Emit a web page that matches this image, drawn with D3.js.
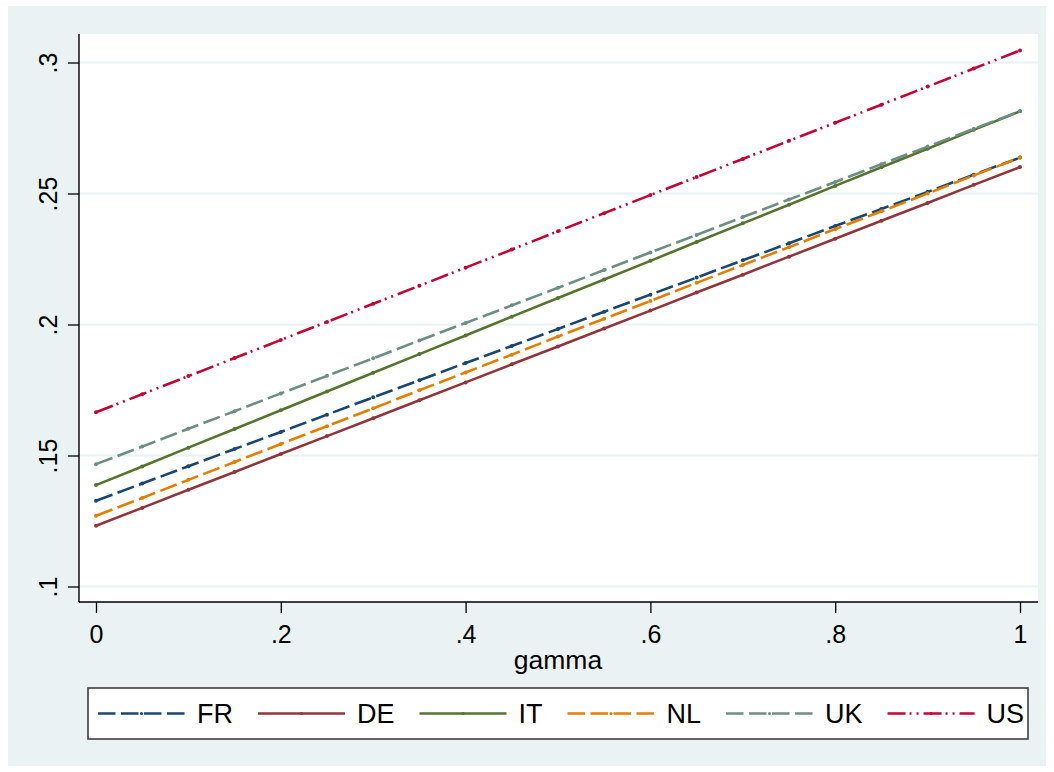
<!DOCTYPE html>
<html><head><meta charset="utf-8">
<script src="https://cdn.jsdelivr.net/npm/d3@7"></script>
<style>body{margin:0;background:#fff}svg{display:block;font-family:"Liberation Sans",Arial,sans-serif}</style>
</head><body>
<script>
const gamma = [0,.05,.1,.15,.2,.25,.3,.35,.4,.45,.5,.55,.6,.65,.7,.75,.8,.85,.9,.95,1];
const FR = [.1327,.1393,.1459,.1525,.1590,.1656,.1722,.1787,.1853,.1918,.1983,.2049,.2114,.2179,.2245,.2310,.2376,.2441,.2506,.2572,.2637];
const DE = [.1232,.1300,.1369,.1437,.1506,.1574,.1642,.1711,.1779,.1848,.1916,.1985,.2053,.2122,.2190,.2259,.2327,.2396,.2464,.2533,.2601];
const IT = [.1387,.1458,.1530,.1601,.1673,.1744,.1816,.1887,.1958,.2030,.2101,.2172,.2243,.2315,.2386,.2457,.2529,.2600,.2671,.2743,.2814];
const NL = [.1270,.1338,.1407,.1475,.1544,.1612,.1680,.1749,.1817,.1885,.1954,.2022,.2090,.2159,.2227,.2295,.2364,.2432,.2500,.2569,.2637];
const UK = [.1467,.1534,.1602,.1669,.1737,.1804,.1871,.1939,.2006,.2073,.2140,.2208,.2275,.2342,.2410,.2477,.2544,.2612,.2679,.2747,.2814];
const US = [.1665,.1734,.1803,.1872,.1941,.2010,.2079,.2148,.2217,.2286,.2356,.2425,.2494,.2563,.2632,.2701,.2770,.2839,.2908,.2977,.3046];
const seriesNames = ["FR","DE","IT","NL","UK","US"];
const seriesValues = [FR,DE,IT,NL,UK,US];
const colors = ["#1A476F","#90353B","#55752F","#E37E00","#6E8E84","#C10534"];
const dashes = ["17.5 5.5", null, null, "17.5 5.5", "17.5 5.5", "18 4 2 5 2 5"];
const yTicks = [.1,.15,.2,.25,.3];
const yTickLabels = [".1",".15",".2",".25",".3"];
const xTicks = [0,.2,.4,.6,.8,1];
const xTickLabels = ["0",".2",".4",".6",".8","1"];
const xTitle = "gamma";

const W = 1054, H = 772;
const svg = d3.select("body").append("svg").attr("width",W).attr("height",H);
svg.append("rect").attr("x",8).attr("y",6).attr("width",W-16).attr("height",H-12).attr("fill","#EAF2F3");

const x = d3.scaleLinear().domain([0,1]).range([96,1020]);
const y = d3.scaleLinear().domain([.1,.3]).range([586.5,62.5]);
const plot = {x0:79, x1:1038, y0:34, y1:602};

svg.append("rect").attr("x",plot.x0).attr("y",plot.y0).attr("width",plot.x1-plot.x0).attr("height",plot.y1-plot.y0).attr("fill","#fff");

// gridlines
svg.append("g").selectAll("line").data(yTicks).join("line")
  .attr("x1",plot.x0).attr("x2",plot.x1).attr("y1",d=>y(d)).attr("y2",d=>y(d))
  .attr("stroke","#EAF2F3").attr("stroke-width",2.2);

// series
const line = d3.line().x((d,i)=>x(gamma[i])).y(d=>y(d));
seriesValues.forEach((vals,k)=>{
  const g = svg.append("g");
  g.append("path").datum(vals).attr("d",line).attr("fill","none")
    .attr("stroke",colors[k]).attr("stroke-width",2.6)
    .attr("stroke-dasharray",dashes[k]);
  g.selectAll("circle").data(vals).join("circle")
    .attr("cx",(d,i)=>x(gamma[i])).attr("cy",d=>y(d)).attr("r",2).attr("fill",colors[k]);
});

// axes
const yAxis = d3.axisLeft(y).tickValues(yTicks).tickFormat((d,i)=>yTickLabels[i]).tickSize(11).tickPadding(0);
const gy = svg.append("g").attr("transform",`translate(${plot.x0},0)`).call(yAxis);
gy.select(".domain").remove();
gy.selectAll(".tick line").attr("stroke","#000").attr("stroke-width",1.3);
gy.selectAll(".tick text").attr("font-size",25).attr("fill","#000")
  .attr("text-anchor","middle").attr("dy",0)
  .attr("transform",function(d){return `translate(${-22},0) rotate(-90)`;})
  .attr("x",0).attr("y",0);
svg.append("line").attr("x1",plot.x0).attr("x2",plot.x0).attr("y1",plot.y0).attr("y2",plot.y1)
  .attr("stroke","#000").attr("stroke-width",1.4);

const xAxis = d3.axisBottom(x).tickValues(xTicks).tickFormat((d,i)=>xTickLabels[i]).tickSize(11).tickPadding(12);
const gx = svg.append("g").attr("transform",`translate(0,${plot.y1})`).call(xAxis);
gx.select(".domain").remove();
gx.selectAll(".tick line").attr("stroke","#000").attr("stroke-width",1.3);
gx.selectAll(".tick text").attr("font-size",25).attr("fill","#000").attr("dy",0).attr("y",41);
svg.append("line").attr("x1",plot.x0).attr("x2",plot.x1).attr("y1",plot.y1).attr("y2",plot.y1)
  .attr("stroke","#000").attr("stroke-width",1.4);

svg.append("text").attr("x",(x(0)+x(1))/2).attr("y",669).attr("text-anchor","middle")
  .attr("font-size",26.5).attr("fill","#000").text(xTitle);

// legend
const lg = svg.append("g");
lg.append("rect").attr("x",88).attr("y",688).attr("width",940).attr("height",51)
  .attr("fill","#fff").attr("stroke","#404040").attr("stroke-width",1.6);
let cx = 98;
const ly = 713.5;
seriesNames.forEach((name,k)=>{
  lg.append("line").attr("x1",cx).attr("x2",cx+87).attr("y1",ly).attr("y2",ly)
    .attr("stroke",colors[k]).attr("stroke-width",2.6).attr("stroke-dasharray",dashes[k]);
  lg.append("circle").attr("cx",cx+43.5).attr("cy",ly).attr("r",1.6).attr("fill",colors[k]);
  const t = lg.append("text").attr("x",cx+99).attr("y",ly+9.5).attr("font-size",27).attr("fill","#000").text(name);
  cx = cx + 99 + t.node().getComputedTextLength() + 25;
});
</script>
</body></html>
